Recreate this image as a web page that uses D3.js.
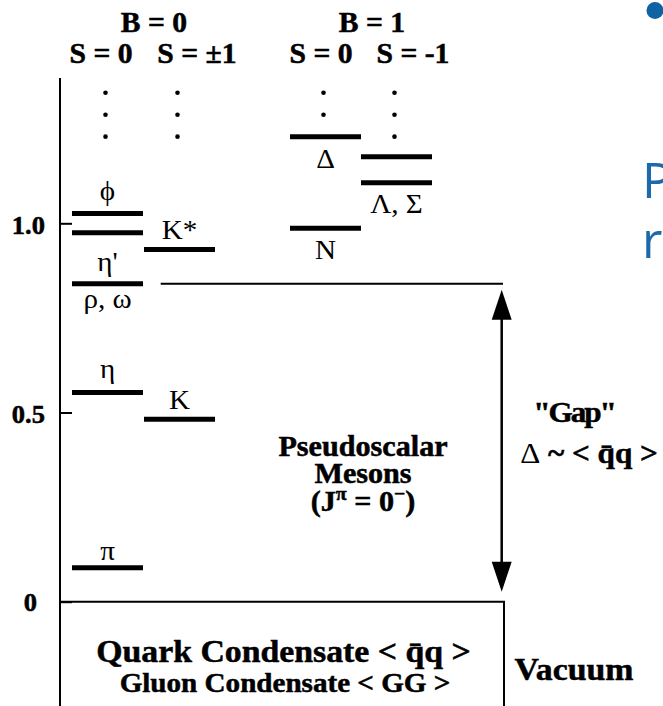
<!DOCTYPE html>
<html>
<head>
<meta charset="utf-8">
<script src="https://cdn.jsdelivr.net/npm/d3@7"></script>
<style>
  html, body { margin: 0; padding: 0; background: #fff; overflow: hidden; }
  svg { display: block; }
</style>
</head>
<body>
<svg id="chart" width="663" height="706"></svg>
<script>
// ---- Hadron spectrum: masses in GeV ----
const columns = ["B0S0", "B0S1", "B1S0", "B1Sm1"];
const baryonLabels = ["B = 0", "B = 1"];
const strangenessLabels = ["S = 0", "S = ±1", "S = 0", "S = -1"];

const levelColumn = ["B0S0", "B0S0", "B0S0", "B0S0", "B0S0", "B0S1", "B0S1", "B1S0", "B1S0", "B1Sm1", "B1Sm1"];
const levelMass   = [0.09,   0.553,  0.84,   0.975,  1.026,  0.482,  0.931,  0.987,  1.229,  1.107,   1.176];
const levelLabel  = ["π",    "η",    "ρ, ω", "η'",   "ϕ",    "K",    "K*",   "N",    "Δ",    "Λ, Σ",  ""];

const tickValues = [0, 0.5, 1.0];
const tickLabels = ["0", "0.5", "1.0"];
const continuationRows = [1.345, 1.287, 1.229];
const gapLevel = "ρ, ω";

// ---- layout ----
const svg = d3.select("#chart");
const SERIF = "'Liberation Serif', 'Times New Roman', serif";
const SX = 1.04; // slight horizontal stretch of the typeset text
const W = 663, H = 706;

const y = d3.scaleLinear().domain([0, 1]).range([601.7, 223.3]);
const xCol = d3.scaleOrdinal().domain(columns).range([72, 144, 290, 361]);
const colW = 71;
const xMid = c => xCol(c) + colW / 2;
const xHead = d3.scaleOrdinal().domain(columns).range([101, 197, 321, 413]);
const axisX = 60;
const boxRight = 504;

function txt(parent, str, x, yy, size, weight, anchor) {
  const t = parent.append("text")
    .attr("transform", `translate(${x},${yy}) scale(${SX},1)`)
    .attr("font-family", SERIF)
    .attr("font-size", size)
    .attr("font-weight", weight || "normal")
    .attr("text-anchor", anchor || "middle")
    .attr("fill", "#000")
    .text(str);
  if (weight === "bold") t.attr("stroke", "#000").attr("stroke-width", 0.5);
  return t;
}

// ---- headers ----
const gHead = svg.append("g");
baryonLabels.forEach((b, i) => {
  const a = columns[2 * i], c = columns[2 * i + 1];
  txt(gHead, b, (xHead(a) + xHead(c)) / 2 + 5, 32, 28.5, "bold");
});
strangenessLabels.forEach((s, i) => txt(gHead, s, xHead(columns[i]), 63, 28.5, "bold"));

// ---- mass axis ----
svg.append("line")
  .attr("x1", axisX).attr("x2", axisX)
  .attr("y1", y(1.384)).attr("y2", H + 2)
  .attr("stroke", "#000").attr("stroke-width", 2);

const axis = d3.axisLeft(y)
  .tickValues(tickValues)
  .tickFormat((d, i) => tickLabels[i])
  .tickSizeInner(-12).tickSizeOuter(0);
const gAxis = svg.append("g").attr("transform", `translate(${axisX},0)`).call(axis);
gAxis.select(".domain").remove();
gAxis.selectAll(".tick line").attr("stroke", "#000").attr("stroke-width", 2);
gAxis.selectAll(".tick text")
  .attr("x", 0).attr("dy", null)
  .attr("font-family", SERIF).attr("font-weight", "bold").attr("font-size", 25.5)
  .attr("fill", "#000").attr("stroke", "#000").attr("stroke-width", 0.5)
  .attr("text-anchor", "end")
  .attr("transform", d => `translate(${d === 0 ? -23 : -15},${d === 0 ? 9 : 10}) scale(${SX},1)`);

// ---- continuation dots above each tower ----
const topMass = c => d3.max(levelMass.filter((m, i) => levelColumn[i] === c));
columns.forEach(c => {
  continuationRows.filter(r => r > topMass(c) + 0.02).forEach(r => {
    svg.append("circle").attr("cx", xMid(c) - 2).attr("cy", y(r)).attr("r", 2.3).attr("fill", "#000");
  });
});

// ---- energy levels ----
const levels = levelMass.map((m, i) => ({ mass: m, col: levelColumn[i], label: levelLabel[i] }));
svg.append("g").selectAll("line").data(levels).join("line")
  .attr("x1", d => xCol(d.col)).attr("x2", d => xCol(d.col) + colW)
  .attr("y1", d => y(d.mass)).attr("y2", d => y(d.mass))
  .attr("stroke", "#000").attr("stroke-width", 5);

// baseline offsets of the level names relative to their level
const labelDy = { "π": -8, "η": -14, "ρ, ω": 24, "η'": 38, "ϕ": -13, "K": -10, "K*": -10, "N": 31, "Δ": 31, "Λ, Σ": 30 };
const gLab = svg.append("g");
levels.filter(d => d.label).forEach(d => {
  txt(gLab, d.label, xMid(d.col), y(d.mass) + labelDy[d.label], 28, "normal");
});

// ---- gap: lowest vector state down to the vacuum ----
const gapMass = levelMass[levelLabel.indexOf(gapLevel)];
svg.append("line")
  .attr("x1", 160.7).attr("x2", 503)
  .attr("y1", y(gapMass)).attr("y2", y(gapMass))
  .attr("stroke", "#000").attr("stroke-width", 2);

const ax = 501.7, aTop = y(gapMass) + 6, aBot = y(0) - 10;
svg.append("line").attr("x1", ax).attr("x2", ax).attr("y1", aTop + 20).attr("y2", aBot - 20)
  .attr("stroke", "#000").attr("stroke-width", 2.5);
svg.append("path").attr("d", `M${ax},${aTop} L${ax - 10},${aTop + 30} L${ax + 10},${aTop + 30} Z`).attr("fill", "#000");
svg.append("path").attr("d", `M${ax},${aBot} L${ax - 10},${aBot - 30} L${ax + 10},${aBot - 30} Z`).attr("fill", "#000");

const gGap = svg.append("g");
txt(gGap, "\"Gap\"", 574, 422, 30, "bold").attr("letter-spacing", -2);
const gapEq = gGap.append("text")
  .attr("transform", `translate(589,463) scale(${SX},1)`)
  .attr("font-family", SERIF).attr("font-size", 30).attr("font-weight", "bold")
  .attr("stroke", "#000").attr("stroke-width", 0.5)
  .attr("text-anchor", "middle").attr("fill", "#000");
gapEq.append("tspan").attr("font-weight", "normal").attr("stroke-width", 0).text("Δ");
gapEq.append("tspan").text(" ~ < q\u0304q >");

// ---- pseudoscalar annotation ----
const gPs = svg.append("g");
txt(gPs, "Pseudoscalar", 363, 456, 29, "bold");
txt(gPs, "Mesons", 363, 483, 29, "bold");
const jp = gPs.append("text")
  .attr("transform", `translate(363,511) scale(${SX},1)`)
  .attr("font-family", SERIF).attr("font-size", 29).attr("font-weight", "bold")
  .attr("stroke", "#000").attr("stroke-width", 0.5)
  .attr("text-anchor", "middle").attr("fill", "#000");
jp.append("tspan").text("(J");
jp.append("tspan").attr("font-size", 19).attr("dy", -11).text("π");
jp.append("tspan").attr("dy", 11).text(" = 0");
jp.append("tspan").attr("font-size", 19).attr("dy", -11).text("−");
jp.append("tspan").attr("dy", 11).text(")");

// ---- vacuum box ----
svg.append("path")
  .attr("d", `M${axisX},${y(0)} H${boxRight} V${H + 2}`)
  .attr("fill", "none").attr("stroke", "#000").attr("stroke-width", 2);
const gVac = svg.append("g");
txt(gVac, "Quark Condensate < q\u0304q >", 283.5, 662, 32.5, "bold");
txt(gVac, "Gluon Condensate < GG >", 285, 692, 28, "bold");
txt(gVac, "Vacuum", 574, 680, 32.5, "bold");

// ---- slide text at the right edge ----
svg.append("circle").attr("cx", 655).attr("cy", 10.5).attr("r", 8.5).attr("fill", "#0f63a3");
svg.append("text").attr("x", 642).attr("y", 198)
  .attr("font-family", "'Open Sans', sans-serif").attr("font-size", 50).attr("fill", "#1d6aab").text("P");
svg.append("text").attr("x", 642).attr("y", 258)
  .attr("font-family", "'Open Sans', sans-serif").attr("font-size", 50).attr("fill", "#1d6aab").text("r");
</script>
</body>
</html>
